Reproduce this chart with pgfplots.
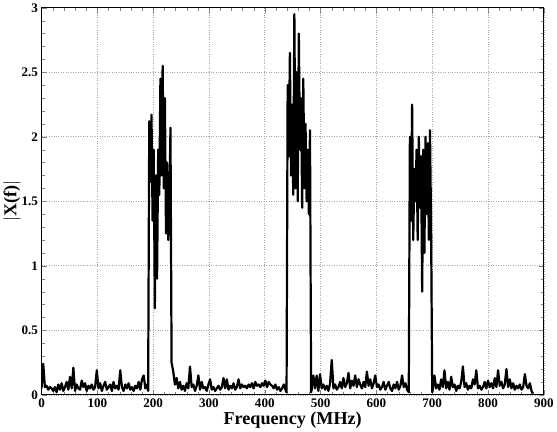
\documentclass[border=0pt]{standalone}
\usepackage{fontspec}
\setmainfont{Liberation Serif}
\usepackage{pgfplots}
\pgfplotsset{compat=1.18}
\begin{document}
\begin{tikzpicture}
\begin{axis}[
  scale only axis, width=497bp, height=383bp,
  xmin=0, xmax=900, ymin=0, ymax=3,
  xtick={0,100,...,900}, ytick={0,0.5,...,3},
  minor x tick num=4, minor y tick num=4,
  tick pos=both, tick align=inside,
  major tick length=5pt, minor tick length=3pt,
  grid=major, major grid style={dotted, gray!70, line width=0.6pt},
  axis line style={line width=0.8pt},
  /pgf/number format/assume math mode=true,
  yticklabel style={/pgf/number format/fixed},
  tick label style={font=\fontsize{13}{15}\selectfont\bfseries},
  label style={font=\fontsize{18}{20}\selectfont\bfseries},
  xlabel={Frequency (MHz)},
  ylabel={$|$X(f)$|$},
  xlabel style={yshift=2pt},
  ylabel style={yshift=-6pt},
]
\addplot[black, line width=2.2pt, line join=round, no marks] coordinates {
(0,0.05)(3,0.24)(6,0.06)(9,0.07)(12,0.04)(15,0.06)(18,0.05)(21,0.03)(24,0.06)(27,0.02)(30,0.08)(33,0.04)(36,0.09)(39,0.03)(42,0.06)(45,0.1)(48,0.04)(51,0.14)(54,0.05)(57,0.21)(60,0.03)(63,0.08)(66,0.05)(69,0.04)(72,0.11)(75,0.06)(78,0.09)(81,0.03)(84,0.07)(87,0.05)(90,0.08)(93,0.04)(96,0.06)(99,0.19)(102,0.05)(105,0.09)(108,0.03)(111,0.07)(114,0.1)(117,0.04)(120,0.06)(123,0.08)(126,0.03)(129,0.1)(132,0.05)(135,0.07)(138,0.04)(141,0.19)(144,0.06)(147,0.03)(150,0.08)(153,0.05)(156,0.09)(159,0.04)(162,0.06)(165,0.03)(168,0.07)(171,0.05)(174,0.1)(177,0.04)(180,0.12)(183,0.15)(186,0.05)(189,0.08)(191,0.03)
(193,2.12)(195,1.65)(197,2.17)(199,1.35)(201,1.9)(203,0.67)(205,1.7)(207,0.9)(209,1.9)(211,1.55)(213,2.45)(215,1.7)(217,2.55)(219,1.6)(221,2.3)(223,1.25)(225,1.8)(227,1.2)(229,1.45)(231,2.07)
(233,0.25)(236,0.18)(239,0.08)(242,0.13)(245,0.05)(248,0.1)(251,0.04)(254,0.07)(257,0.03)(260,0.09)(263,0.05)(266,0.22)(269,0.06)(272,0.08)(275,0.03)(278,0.07)(281,0.15)(284,0.04)(287,0.1)(290,0.05)(293,0.06)(296,0.03)(299,0.08)(302,0.12)(305,0.04)(308,0.06)(311,0.03)(314,0.05)(317,0.07)(320,0.04)(323,0.06)(326,0.13)(329,0.05)(332,0.12)(335,0.04)(338,0.07)(341,0.05)(344,0.09)(347,0.04)(350,0.06)(353,0.12)(356,0.05)(359,0.08)(362,0.06)(365,0.07)(368,0.05)(371,0.08)(374,0.06)(377,0.09)(380,0.05)(383,0.1)(386,0.07)(389,0.08)(392,0.06)(395,0.09)(398,0.07)(401,0.11)(404,0.06)(407,0.1)(410,0.08)(413,0.07)(416,0.05)(419,0.08)(422,0.04)(425,0.06)(428,0.03)(431,0.05)(434,0.08)(437,0.04)(439,0.02)
(441,2.4)(443,1.85)(445,2.65)(447,1.7)(449,2.25)(451,1.55)(453,2.95)(455,1.6)(457,2.5)(459,1.5)(461,2.8)(463,1.9)(465,2.3)(467,1.45)(469,2.45)(471,1.6)(473,2.1)(475,1.5)(477,1.9)(479,1.4)(481,2.05)
(483,0.02)(484,0.04)(487,0.15)(490,0.05)(493,0.15)(496,0.03)(499,0.16)(502,0.05)(505,0.08)(508,0.04)(511,0.07)(514,0.03)(517,0.09)(520,0.27)(523,0.05)(526,0.08)(529,0.04)(532,0.06)(535,0.1)(538,0.05)(541,0.13)(544,0.06)(547,0.09)(550,0.17)(553,0.05)(556,0.11)(559,0.07)(562,0.15)(565,0.06)(568,0.12)(571,0.08)(574,0.05)(577,0.1)(580,0.06)(583,0.18)(586,0.07)(589,0.12)(592,0.05)(595,0.09)(598,0.15)(601,0.06)(604,0.08)(607,0.04)(610,0.06)(613,0.1)(616,0.04)(619,0.07)(622,0.1)(625,0.05)(628,0.03)(631,0.08)(634,0.05)(637,0.1)(640,0.04)(643,0.07)(646,0.15)(649,0.06)(652,0.09)(655,0.04)(658,0.02)
(660,2.0)(662,1.35)(664,2.25)(666,1.2)(668,1.75)(670,1.5)(672,1.9)(674,1.2)(676,2.0)(678,1.45)(680,1.85)(682,0.8)(684,1.9)(686,1.1)(688,2.0)(690,1.4)(692,1.95)(694,1.2)(696,2.05)(698,1.3)
(700,0.02)(701,0.04)(704,0.15)(707,0.05)(710,0.08)(713,0.04)(716,0.12)(719,0.06)(722,0.19)(725,0.05)(728,0.1)(731,0.04)(734,0.14)(737,0.06)(740,0.08)(743,0.03)(746,0.07)(749,0.05)(752,0.1)(755,0.22)(758,0.06)(761,0.09)(764,0.04)(767,0.07)(770,0.05)(773,0.12)(776,0.08)(779,0.19)(782,0.05)(785,0.07)(788,0.04)(791,0.06)(794,0.1)(797,0.05)(800,0.11)(803,0.06)(806,0.09)(809,0.05)(812,0.13)(815,0.06)(818,0.19)(821,0.07)(824,0.1)(827,0.05)(830,0.08)(833,0.2)(836,0.06)(839,0.12)(842,0.05)(845,0.09)(848,0.04)(851,0.07)(854,0.05)(857,0.08)(860,0.04)(863,0.06)(866,0.16)(869,0.07)(872,0.05)(875,0.09)(878,0.03)(880,0.01)
};
\end{axis}
\end{tikzpicture}
\end{document}
